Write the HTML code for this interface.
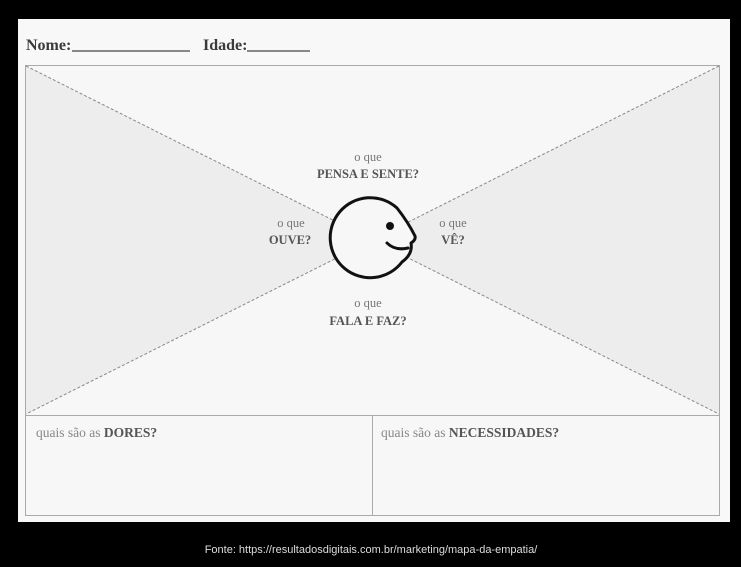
<!DOCTYPE html>
<html><head><meta charset="utf-8"><style>
html,body{margin:0;padding:0;background:#000;width:741px;height:567px;overflow:hidden}
svg{display:block}
</style></head><body>
<svg width="741" height="567" viewBox="0 0 741 567" xmlns="http://www.w3.org/2000/svg">
<rect x="0" y="0" width="741" height="567" fill="#000"/>
<rect x="18" y="19" width="712" height="503" fill="#f8f8f8"/>
<g font-family="Liberation Serif, serif">
<text x="26" y="50" font-size="16" font-weight="bold" fill="#3a3a3a">Nome:</text>
<line x1="72" y1="51" x2="190" y2="51" stroke="#444" stroke-width="1.2"/>
<text x="203" y="50" font-size="16" font-weight="bold" fill="#3a3a3a">Idade:</text>
<line x1="247" y1="51" x2="310" y2="51" stroke="#444" stroke-width="1.2"/>
</g>
<rect x="25.5" y="65.5" width="694" height="450" fill="#f7f7f7" stroke="#aaa" stroke-width="1"/>
<polygon points="26,66 372,240 26,414" fill="#ededed"/>
<polygon points="719,66 372,240 719,414" fill="#ededed"/>
<g stroke="#888" stroke-width="1" stroke-dasharray="3,2">
<line x1="26" y1="66" x2="719" y2="414"/>
<line x1="719" y1="66" x2="26" y2="414"/>
</g>
<line x1="25.5" y1="415.5" x2="719.5" y2="415.5" stroke="#aaa"/>
<line x1="372.5" y1="415" x2="372.5" y2="516" stroke="#aaa"/>
<path d="M402,262 A40,40 0 1 1 397,208 Q408,222 415,236 Q416,240 411,243 Q413,254 402,262 Z" fill="#f7f7f7" stroke="#111" stroke-width="3" stroke-linejoin="round"/>
<circle cx="390" cy="226" r="4" fill="#111"/>
<path d="M387,243 Q395,251 408,248" fill="none" stroke="#111" stroke-width="3" stroke-linecap="round"/>
<g font-family="Liberation Serif, serif" font-size="12.5" text-anchor="middle">
<text x="368" y="161" fill="#777">o que</text>
<text x="368" y="178" fill="#555" font-weight="bold">PENSA E SENTE?</text>
<text x="291" y="227" fill="#777">o que</text>
<text x="290" y="244" fill="#555" font-weight="bold">OUVE?</text>
<text x="453" y="227" fill="#777">o que</text>
<text x="453" y="244" fill="#555" font-weight="bold">VÊ?</text>
<text x="368" y="307" fill="#777">o que</text>
<text x="368" y="325" fill="#555" font-weight="bold">FALA E FAZ?</text>
</g>
<g font-family="Liberation Serif, serif" font-size="13.5">
<text x="36" y="437" fill="#888">quais são as <tspan font-weight="bold" fill="#555">DORES?</tspan></text>
<text x="381" y="437" fill="#888">quais são as <tspan font-weight="bold" fill="#555">NECESSIDADES?</tspan></text>
</g>
<text x="371" y="553" font-family="Liberation Sans, sans-serif" font-size="11" fill="#ddd" text-anchor="middle">Fonte: https://resultadosdigitais.com.br/marketing/mapa-da-empatia/</text>
</svg>
</body></html>
